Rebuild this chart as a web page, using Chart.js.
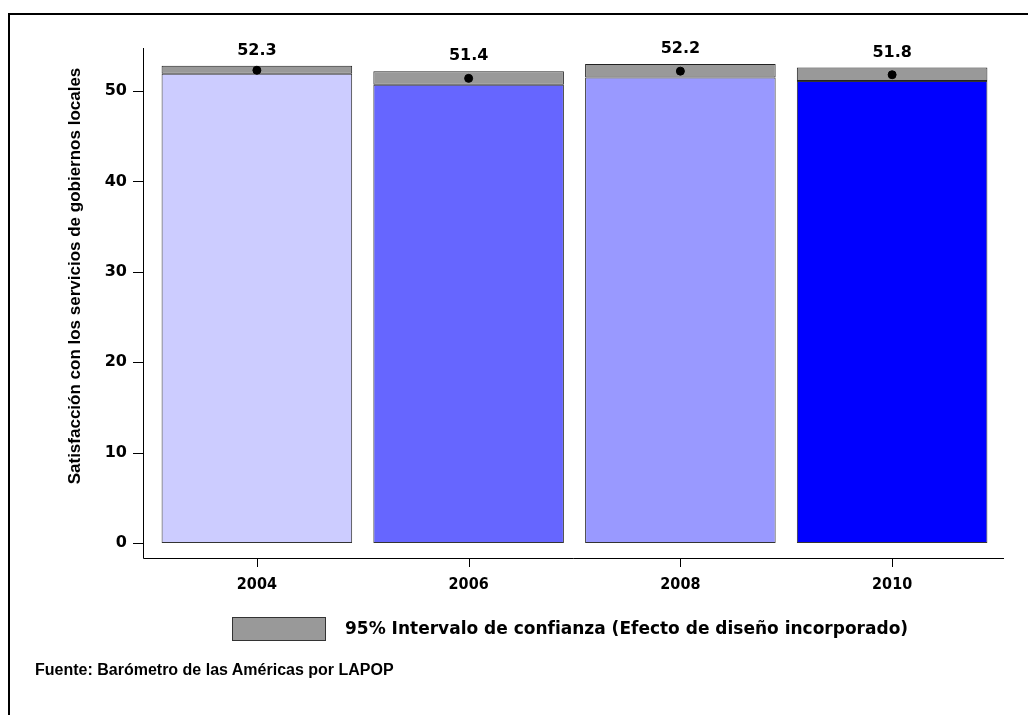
<!DOCTYPE html>
<html lang="es">
<head>
  <meta charset="UTF-8">
  <title>Satisfacción con los servicios de gobiernos locales</title>
  <script src="https://cdn.jsdelivr.net/npm/chart.js"></script>
  <style>
    body {
      margin: 0;
      width: 1028px;
      height: 715px;
      overflow: hidden;
      position: relative;
      background: #fff;
    }

    #frame {
      position: absolute;
      left: 8px;
      top: 13px;
      width: 1100px;
      height: 800px;
      border: 2px solid #000;
    }

    #chart {
      position: absolute;
      left: 0;
      top: 0;
    }

    .legend-box {
      position: absolute;
      left: 232px;
      top: 617px;
      width: 92px;
      height: 22px;
      background: #999999;
      border: 1px solid #333;
    }

    .legend-text {
      position: absolute;
      left: 345px;
      top: 618px;
      line-height: 22px;
      font: bold 17px "DejaVu Sans", sans-serif;
      white-space: nowrap;
    }

    .source {
      position: absolute;
      left: 35px;
      top: 661px;
      line-height: 22px;
      font: bold 16px "Liberation Sans Narrow", "Liberation Sans", sans-serif;
      white-space: nowrap;
    }
  </style>
</head>
<body>

  <div id="frame"></div>
  <canvas id="chart" width="1028" height="715"></canvas>
  <div class="legend-box"></div>
  <div class="legend-text">95% Intervalo de confianza (Efecto de diseño incorporado)</div>
  <div class="source">Fuente: Barómetro de las Américas por LAPOP</div>

  <script>
    const years = ['2004', '2006', '2008', '2010'];
    const means = [52.3, 51.4, 52.2, 51.8];
    const ciLow = [51.9, 50.7, 51.5, 51.1];
    const ciHigh = [52.8, 52.2, 53.0, 52.6];
    const yTicks = [0, 10, 20, 30, 40, 50];
    const barColors = ['#ccccff', '#6666ff', '#9999ff', '#0000ff'];
    const yTitle = 'Satisfacción con los servicios de gobiernos locales';

    // ejes, etiquetas de valores y título del eje y
    const decor = {
      id: 'decor',
      afterDraw(chart) {
        const ctx = chart.ctx;
        const x = chart.scales.x;
        const y = chart.scales.y;
        const area = chart.chartArea;
        const axisX = area.left - 8;
        ctx.save();
        ctx.strokeStyle = '#000';
        ctx.lineWidth = 1;
        ctx.beginPath();
        ctx.moveTo(axisX + 0.5, area.top);
        ctx.lineTo(axisX + 0.5, area.bottom + 0.5);
        ctx.lineTo(area.right + 6, area.bottom + 0.5);
        yTicks.forEach(v => {
          const py = Math.round(y.getPixelForValue(v)) + 0.5;
          ctx.moveTo(axisX - 10, py);
          ctx.lineTo(axisX, py);
        });
        years.forEach((yr, i) => {
          const px = Math.round(x.getPixelForValue(i)) + 0.5;
          ctx.moveTo(px, area.bottom);
          ctx.lineTo(px, area.bottom + 9);
        });
        ctx.stroke();

        ctx.fillStyle = '#000';
        ctx.font = 'bold 16px "DejaVu Sans"';
        ctx.textAlign = 'center';
        ctx.textBaseline = 'middle';
        means.forEach((m, i) => {
          ctx.fillText(m.toFixed(1), x.getPixelForValue(i), y.getPixelForValue(ciHigh[i]) - 15);
        });

        ctx.translate(75, 276);
        ctx.rotate(-Math.PI / 2);
        ctx.font = 'bold 17px "Liberation Sans"';
        ctx.fillText(yTitle, 0, 0);
        ctx.restore();
      }
    };

    new Chart(document.getElementById('chart'), {
      data: {
        labels: years,
        datasets: [
          {
            type: 'line',
            data: means,
            showLine: false,
            pointRadius: 4,
            pointBackgroundColor: '#000',
            pointBorderColor: '#000',
            order: 0
          },
          {
            type: 'bar',
            data: ciLow.map((v, i) => [v, ciHigh[i]]),
            backgroundColor: '#999999',
            borderColor: '#222',
            borderWidth: 1,
            borderSkipped: false,
            grouped: false,
            barPercentage: 0.9,
            categoryPercentage: 1,
            order: 1
          },
          {
            type: 'bar',
            data: ciLow,
            backgroundColor: barColors,
            borderColor: '#333',
            borderWidth: 1,
            borderSkipped: false,
            grouped: false,
            barPercentage: 0.9,
            categoryPercentage: 1,
            order: 2
          }
        ]
      },
      options: {
        responsive: false,
        animation: false,
        devicePixelRatio: 1,
        layout: { padding: { left: 0, right: 30, top: 48, bottom: 0 } },
        plugins: {
          legend: { display: false },
          tooltip: { enabled: false }
        },
        scales: {
          x: {
            type: 'category',
            grid: { display: false, drawTicks: false },
            border: { display: false },
            ticks: {
              color: '#000',
              padding: 17,
              font: { family: '"DejaVu Sans Condensed"', weight: 'bold', size: 16 }
            },
            afterFit: s => { s.height = 157; }
          },
          y: {
            min: -1.66,
            max: 54.76,
            grid: { display: false, drawTicks: false },
            border: { display: false },
            ticks: {
              color: '#000',
              padding: 24,
              font: { family: '"DejaVu Sans"', weight: 'bold', size: 16 }
            },
            afterBuildTicks: s => { s.ticks = yTicks.map(v => ({ value: v })); },
            afterFit: s => { s.width = 151; }
          }
        }
      },
      plugins: [decor]
    });
  </script>

</body>
</html>
